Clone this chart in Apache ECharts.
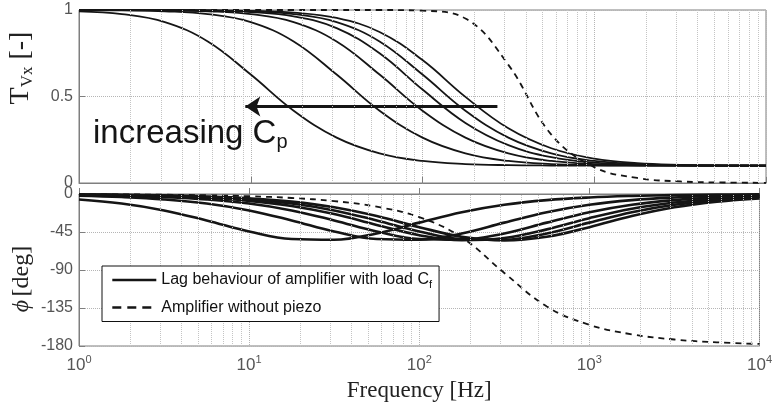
<!DOCTYPE html>
<html>
<head>
<meta charset="utf-8">
<script src="https://cdn.jsdelivr.net/npm/echarts@6/dist/echarts.min.js"></script>
<style>
  html, body { margin: 0; padding: 0; background: #fff; }
  #chart { width: 775px; height: 403px; }
</style>
</head>
<body>
<div id="chart"></div>
<script>
  // frequency grid, quarter decades [Hz]
  const FREQ = [1, 1.778, 3.162, 5.623, 10, 17.78, 31.62, 56.23, 100, 177.8, 316.2, 562.3, 1000, 1778, 3162, 5623, 10000];

  // magnitude T_Vx [-], one array per C_p (largest C_p first)
  const MAG_CP1 = [0.9923, 0.9761, 0.9298, 0.8182, 0.6269, 0.4179, 0.2622, 0.1714, 0.1273, 0.1094, 0.1031, 0.101, 0.1003, 0.1001, 0.1, 0.1, 0.1];
  const MAG_CP2 = [0.9992, 0.9975, 0.9923, 0.9761, 0.9298, 0.8182, 0.6269, 0.4179, 0.2622, 0.1714, 0.1273, 0.1094, 0.1031, 0.101, 0.1003, 0.1001, 0.1];
  const MAG_CP3 = [0.9997, 0.9992, 0.9975, 0.9923, 0.9761, 0.9298, 0.8182, 0.6269, 0.4179, 0.2622, 0.1714, 0.1273, 0.1094, 0.1031, 0.101, 0.1003, 0.1001];
  const MAG_CP4 = [1.0, 0.9996, 0.9988, 0.9961, 0.9878, 0.9629, 0.8951, 0.7495, 0.5403, 0.3474, 0.2189, 0.1494, 0.118, 0.106, 0.102, 0.1006, 0.1002];
  const MAG_CP5 = [1.0, 0.9997, 0.9992, 0.9975, 0.9923, 0.9761, 0.9298, 0.8182, 0.6269, 0.4179, 0.2622, 0.1714, 0.1273, 0.1094, 0.1031, 0.101, 0.1003];
  const MAG_CP6 = [1.0, 1.0, 0.9995, 0.9984, 0.9951, 0.9847, 0.9539, 0.873, 0.7106, 0.4979, 0.3162, 0.2009, 0.1407, 0.1145, 0.1048, 0.1016, 0.1005];
  const MAG_AMP = [1, 1, 1, 1, 1, 1, 1, 1, 0.996, 0.951, 0.683, 0.28, 0.092, 0.029, 0.009, 0.003, 0.001];

  // phase [deg]
  const PHASE_CP1 = [-6.46, -11.34, -19.43, -31.25, -44.37, -53.31, -54.19, -46.66, -33.91, -21.51, -12.66, -7.23, -4.09, -2.3, -1.3, -0.73, -0.41];
  const PHASE_CP2 = [-2.05, -3.64, -6.46, -11.34, -19.43, -31.25, -44.37, -53.31, -54.19, -46.66, -33.91, -21.51, -12.66, -7.23, -4.09, -2.3, -1.3];
  const PHASE_CP3 = [-1.15, -2.05, -3.64, -6.46, -11.34, -19.43, -31.25, -44.37, -53.31, -54.19, -46.66, -33.91, -21.51, -12.66, -7.23, -4.09, -2.3];
  const PHASE_CP4 = [-0.82, -1.45, -2.58, -4.58, -8.1, -14.12, -23.75, -36.62, -48.74, -54.72, -52.1, -41.89, -28.64, -17.51, -10.14, -5.76, -3.25];
  const PHASE_CP5 = [-0.65, -1.15, -2.05, -3.64, -6.46, -11.34, -19.43, -31.25, -44.37, -53.31, -54.19, -46.66, -33.91, -21.51, -12.66, -7.23, -4.09];
  const PHASE_CP6 = [-0.52, -0.92, -1.63, -2.9, -5.14, -9.06, -15.74, -26.14, -39.29, -50.56, -54.9, -50.56, -39.29, -26.14, -15.74, -9.06, -5.14];
  const PHASE_AMP = [-0.27, -0.47, -0.84, -1.49, -2.65, -4.72, -8.41, -15.06, -27.41, -51.43, -93.52, -133.26, -154.96, -166.2, -172.29, -175.67, -177.57];

  const MAG_TICKS = [0, 0.5, 1];
  const PHASE_TICKS = [-180, -135, -90, -45, 0];

  // annotation arrow (data coords)
  const ARROW_FROM_HZ = 273;
  const ARROW_TO_HZ = 9.3;
  const ARROW_LEVEL = 0.442;

  const LAG_NAME = 'Lag behaviour of amplifier with load Cf';
  const AMP_NAME = 'Amplifier without piezo';

  const MAGS = [MAG_CP1, MAG_CP2, MAG_CP3, MAG_CP4, MAG_CP5, MAG_CP6];
  const PHASES = [PHASE_CP1, PHASE_CP2, PHASE_CP3, PHASE_CP4, PHASE_CP5, PHASE_CP6];

  const minorX = [];
  for (let d = 1; d < 10000; d *= 10) {
    for (let k = 2; k <= 9; k++) minorX.push(d * k);
  }

  const pairs = (ys) => FREQ.map((f, i) => [f, ys[i]]);
  const ink = '#151515';
  const gridColor = '#c4c4c4';
  const axisGrey = '#7f7f7f';
  const labelGrey = '#555';
  const sans = 'Liberation Sans';
  const serif = 'Liberation Serif';

  const minorGrid = {
    silent: true,
    symbol: 'none',
    label: { show: false },
    lineStyle: { color: gridColor, type: 'dotted', width: 1 },
    data: minorX.map((v) => ({ xAxis: v })),
  };

  const xAxisBase = {
    type: 'log',
    logBase: 10,
    min: 1,
    max: 10000,
    axisLine: { show: true, lineStyle: { color: axisGrey } },
    axisTick: { show: true, inside: true, length: 6, lineStyle: { color: axisGrey } },
    splitLine: { show: true, lineStyle: { color: '#b5b5b5', type: 'dotted' } },
  };

  const lineSeries = (name, xi, ys, style, extra) =>
    Object.assign(
      {
        name: name,
        type: 'line',
        xAxisIndex: xi,
        yAxisIndex: xi,
        data: pairs(ys),
        smooth: 0.4,
        symbol: 'none',
        itemStyle: { color: ink },
        lineStyle: style,
        z: 3,
      },
      extra || {}
    );

  const series = [];
  MAGS.forEach((ys, i) => {
    const extra = i === 0 ? {
      markLine: {
        silent: true,
        symbol: ['none', 'arrow'],
        symbolSize: 15,
        label: { show: false },
        lineStyle: { color: ink, width: 3, type: 'solid' },
        data: [[{ coord: [ARROW_FROM_HZ, ARROW_LEVEL] }, { coord: [ARROW_TO_HZ, ARROW_LEVEL] }]],
      },
    } : null;
    series.push(lineSeries(LAG_NAME, 0, ys, { color: ink, width: 1.8 }, extra));
  });
  series.push(lineSeries(AMP_NAME, 0, MAG_AMP, { color: ink, width: 1.8, type: [6, 5] }, { markLine: minorGrid }));
  PHASES.forEach((ys) => {
    series.push(lineSeries(LAG_NAME, 1, ys, { color: ink, width: 2.6 }));
  });
  series.push(lineSeries(AMP_NAME, 1, PHASE_AMP, { color: ink, width: 1.8, type: [6, 5] }, { markLine: minorGrid }));

  const chart = echarts.init(document.getElementById('chart'), null, { renderer: 'canvas' });
  chart.setOption({
    animation: false,
    backgroundColor: '#fff',
    grid: [
      { left: 79, top: 10, width: 687, height: 173, show: true, borderColor: axisGrey, borderWidth: 1, backgroundColor: '#fff' },
      { left: 79, top: 194, width: 687, height: 152, show: true, borderColor: axisGrey, borderWidth: 1, backgroundColor: '#fff' },
    ],
    legend: {
      data: [
        { name: LAG_NAME, lineStyle: { width: 2.6, type: 'solid' } },
        { name: AMP_NAME, lineStyle: { width: 2.6, type: [9, 6] } },
      ],
      orient: 'vertical',
      left: 102,
      top: 266,
      padding: [6, 7, 6, 9],
      itemGap: 9,
      itemWidth: 44,
      itemHeight: 14,
      itemStyle: { opacity: 0 },
      backgroundColor: '#fff',
      borderColor: '#111',
      borderWidth: 1,
      borderRadius: 0,
      selectedMode: false,
      textStyle: {
        fontFamily: sans,
        fontSize: 16,
        color: '#111',
        rich: {
          sub: { fontFamily: sans, fontSize: 11, color: '#111', padding: [10, 0, 0, 0] },
        },
      },
      formatter: (name) => (name === LAG_NAME ? 'Lag behaviour of amplifier with load C{sub|f}' : name),
      z: 10,
    },
    xAxis: [
      Object.assign({}, xAxisBase, { gridIndex: 0, axisLabel: { show: false } }),
      Object.assign({}, xAxisBase, {
        gridIndex: 1,
        name: 'Frequency [Hz]',
        nameLocation: 'middle',
        nameGap: 33,
        nameTextStyle: { fontFamily: serif, fontSize: 23, color: '#222' },
        axisLabel: {
          margin: 8,
          formatter: (v) => '{b|10}{s|' + Math.round(Math.log10(v)) + '}',
          rich: {
            b: { fontFamily: sans, fontSize: 17, color: labelGrey },
            s: { fontFamily: sans, fontSize: 11, color: labelGrey, padding: [0, 0, 12, 0] },
          },
        },
      }),
    ],
    yAxis: [
      {
        type: 'value',
        gridIndex: 0,
        min: MAG_TICKS[0],
        max: MAG_TICKS[MAG_TICKS.length - 1],
        interval: 0.5,
        axisLine: { show: true, lineStyle: { color: axisGrey } },
        axisTick: { show: true, inside: true, length: 6, lineStyle: { color: axisGrey } },
        axisLabel: { fontFamily: sans, fontSize: 16, color: labelGrey, margin: 6 },
        splitLine: { show: true, lineStyle: { color: '#b5b5b5', type: 'dotted' } },
      },
      {
        type: 'value',
        gridIndex: 1,
        min: PHASE_TICKS[0],
        max: PHASE_TICKS[PHASE_TICKS.length - 1],
        interval: 45,
        axisLine: { show: true, lineStyle: { color: axisGrey } },
        axisTick: { show: true, inside: true, length: 6, lineStyle: { color: axisGrey } },
        axisLabel: { fontFamily: sans, fontSize: 16, color: labelGrey, margin: 6 },
        splitLine: { show: true, lineStyle: { color: '#b5b5b5', type: 'dotted' } },
      },
    ],
    graphic: [
      {
        type: 'text',
        x: 21,
        y: 68,
        rotation: Math.PI / 2,
        style: {
          text: '{m|T}{s|Vx}{m| [-]}',
          textAlign: 'center',
          textVerticalAlign: 'middle',
          rich: {
            m: { fontFamily: serif, fontSize: 28, fill: '#222', lineHeight: 30 },
            s: { fontFamily: serif, fontSize: 17, fill: '#222', lineHeight: 30, verticalAlign: 'bottom' },
          },
        },
      },
      {
        type: 'text',
        x: 22,
        y: 279,
        rotation: Math.PI / 2,
        style: {
          text: '{i|\u03d5} {m|[deg]}',
          textAlign: 'center',
          textVerticalAlign: 'middle',
          rich: {
            i: { fontFamily: serif, fontStyle: 'italic', fontSize: 24, fill: '#222' },
            m: { fontFamily: serif, fontSize: 24, fill: '#222' },
          },
        },
      },
      {
        type: 'text',
        x: 93,
        y: 134,
        style: {
          text: '{a|increasing C}{p|p}',
          textAlign: 'left',
          textVerticalAlign: 'middle',
          rich: {
            a: { fontFamily: sans, fontSize: 33, fill: ink, lineHeight: 36 },
            p: { fontFamily: sans, fontSize: 20, fill: ink, lineHeight: 36, verticalAlign: 'bottom' },
          },
        },
        z: 20,
      },
    ],
    series: series,
  });
</script>
</body>
</html>
